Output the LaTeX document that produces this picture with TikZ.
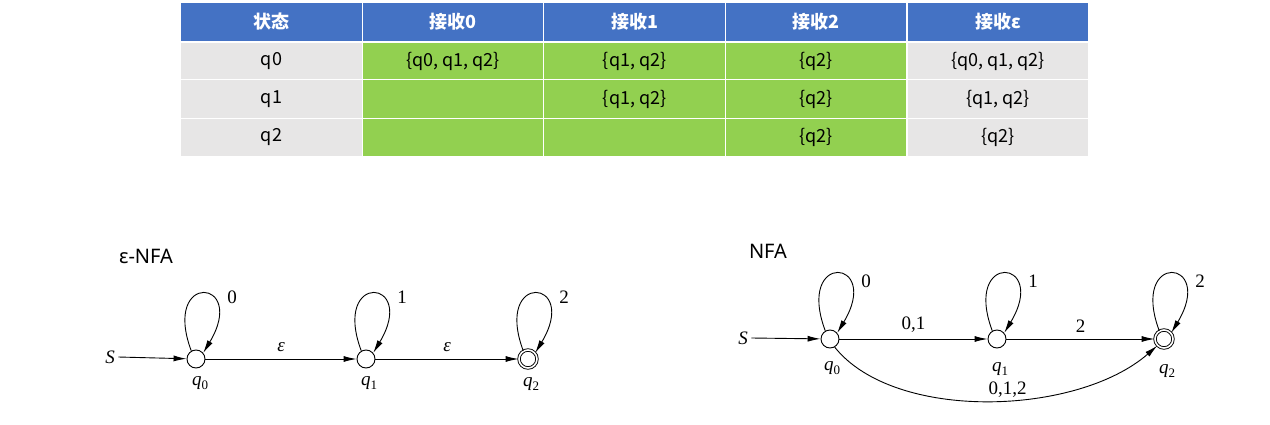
\documentclass[tikz,border=0pt]{standalone}
\usepackage{fontspec}
\setmainfont{Liberation Serif}
\setsansfont{Noto Sans}
\newfontfamily\cjk{Noto Sans CJK SC}
\usetikzlibrary{arrows.meta}
\definecolor{hdr}{HTML}{4472C4}
\definecolor{grn}{HTML}{92D050}
\definecolor{gry}{HTML}{E7E6E6}
\newcommand{\qs}[1]{\textit{q}\raisebox{-4pt}{\fontsize{13}{13}\selectfont #1}}
\begin{document}
\begin{tikzpicture}[x=1pt,y=1pt,
  cell/.style={draw=white,line width=1.2pt,minimum width=182pt,minimum height=38.5pt,inner sep=0pt,font=\cjk\fontsize{18}{20}\selectfont},
  hd/.style={cell,fill=hdr,text=white,font=\cjk\bfseries\fontsize{18}{20}\selectfont},
  g/.style={cell,fill=gry},
  G/.style={cell,fill=grn},
  st/.style={circle,draw,line width=0.9pt,minimum size=18pt,inner sep=0pt},
  acc/.style={st,double,double distance=1.6pt,minimum size=18pt},
  ar/.style={-{Latex[length=13pt,width=6pt]},line width=0.9pt},
  lb/.style={font=\fontsize{19}{21}\selectfont},
  ttl/.style={font=\sffamily\fontsize{20}{24}\selectfont}]
\useasboundingbox (0,0) rectangle (1270,424);
% table
\foreach \t [count=\i from 0] in {状态,接收0,接收1,接收2,接收ε}
  \node[hd] (h\i) at (271.5+181.6*\i,402) {\t};
\node[g] (a0) at (271.5,362.5) {q0};
\node[G] (a1) at (453.1,362.5) {\{q0, q1, q2\}};
\node[G] (a2) at (634.7,362.5) {\{q1, q2\}};
\node[G] (a3) at (816.3,362.5) {\{q2\}};
\node[g] (a4) at (997.9,362.5) {\{q0, q1, q2\}};
\node[g] (b0) at (271.5,325) {q1};
\node[G] (b1) at (453.1,325) {};
\node[G] (b2) at (634.7,325) {\{q1, q2\}};
\node[G] (b3) at (816.3,325) {\{q2\}};
\node[g] (b4) at (997.9,325) {\{q1, q2\}};
\node[g] (c0) at (271.5,286.5) {q2};
\node[G] (c1) at (453.1,286.5) {};
\node[G] (c2) at (634.7,286.5) {};
\node[G] (c3) at (816.3,286.5) {\{q2\}};
\node[g] (c4) at (997.9,286.5) {\{q2\}};
% eps-NFA
\node[ttl] (t1) at (146,168) {ε-NFA};
\node[lb] (s1) at (110,67) {\textit{S}};
\node[st] (p0) at (196,65) {};
\node[st] (p1) at (366,65) {};
\node[acc] (p2) at (528,65) {};
\node[lb] (lp0) at (200,41) {\qs{0}};
\node[lb] (lp1) at (369,41) {\qs{1}};
\node[lb] (lp2) at (531,40) {\qs{2}};
\draw[ar] (s1.east) -- (p0);
\draw[ar] (p0) -- node[lb,above=4pt] {\textit{ε}} (p1);
\draw[ar] (p1) -- node[lb,above=4pt] {\textit{ε}} (p2);
\foreach \n/\l in {p0/0,p1/1,p2/2}{
  \draw[ar] (\n.120) .. controls +(-30,80) and +(45,75) .. (\n.40);
  \node[lb] at ([xshift=36pt,yshift=62pt]\n.center) {\l};}
% NFA
\node[ttl] (t2) at (768,173) {NFA};
\node[lb] (s2) at (743,86) {\textit{S}};
\node[st] (r0) at (830,85) {};
\node[st] (r1) at (997,85) {};
\node[acc] (r2) at (1164,85) {};
\node[lb] (lr0) at (832,56) {\qs{0}};
\node[lb] (lr1) at (1000,55) {\qs{1}};
\node[lb] (lr2) at (1167,53) {\qs{2}};
\draw[ar] (s2.east) -- (r0);
\draw[ar] (r0) -- node[lb,above=3pt] {0,1} (r1);
\draw[ar] (r1) -- node[lb,above=3pt] {2} (r2);
\draw[ar] (r0.-60) .. controls +(60,-75) and +(-80,-70) .. (r2.-135) node[lb,pos=0.55,above=-1pt] {0,1,2};
\foreach \n/\l in {r0/0,r1/1,r2/2}{
  \draw[ar] (\n.120) .. controls +(-30,80) and +(45,75) .. (\n.40);
  \node[lb] at ([xshift=36pt,yshift=58pt]\n.center) {\l};}
\end{tikzpicture}
\end{document}
